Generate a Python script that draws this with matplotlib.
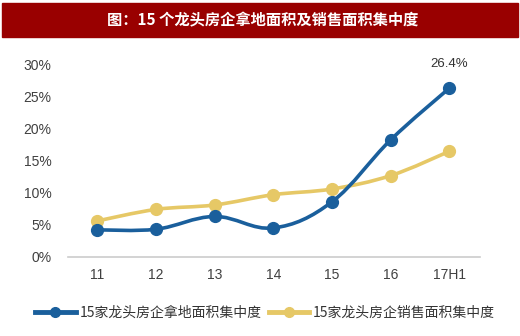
import numpy as np
import matplotlib.pyplot as plt
from matplotlib.patches import Rectangle, PathPatch
from matplotlib.path import Path

plt.rcParams['font.family'] = ['Noto Sans CJK SC', 'DejaVu Sans']

years = ['11', '12', '13', '14', '15', '16', '17H1']
land_share = [4.2, 4.3, 6.3, 4.5, 8.6, 18.3, 26.4]    # 拿地面积集中度 (%)
sales_share = [5.6, 7.4, 8.1, 9.7, 10.6, 12.7, 16.5]  # 销售面积集中度 (%)
series_names = ['15家龙头房企拿地面积集中度', '15家龙头房企销售面积集中度']
title = '图：15 个龙头房企拿地面积及销售面积集中度'

BLUE = '#1a5f9c'
GOLD = '#e6c866'


def smooth_path(xs, ys, k=0.18):
    # cardinal-spline style bezier segments through the points
    xs = np.asarray(xs, float)
    ys = np.asarray(ys, float)
    verts = [(xs[0], ys[0])]
    codes = [Path.MOVETO]
    n = len(xs)
    for i in range(n - 1):
        p0 = i - 1 if i > 0 else i
        p3 = i + 2 if i + 2 < n else i + 1
        c1 = (xs[i] + k * (xs[i + 1] - xs[p0]), ys[i] + k * (ys[i + 1] - ys[p0]))
        c2 = (xs[i + 1] - k * (xs[p3] - xs[i]), ys[i + 1] - k * (ys[p3] - ys[i]))
        verts += [c1, c2, (xs[i + 1], ys[i + 1])]
        codes += [Path.CURVE4] * 3
    return Path(verts, codes)


fig = plt.figure(figsize=(5.2, 3.36), dpi=100)
fig.patches.append(Rectangle((2 / 520, 1 - 37 / 336), 516 / 520, 34 / 336,
                             transform=fig.transFigure, color='#990000', zorder=0))
fig.text(0.505, 1 - 20 / 336, title, color='white', fontsize=11, fontweight='bold',
         ha='center', va='center')

ax = fig.add_axes([68 / 520, 1 - 256.7 / 336, 412 / 520, 191.7 / 336])
x = np.arange(len(years))

for vals, col in [(sales_share, GOLD), (land_share, BLUE)]:
    ax.add_patch(PathPatch(smooth_path(x, vals), fill=False, edgecolor=col,
                           lw=2.6, capstyle='round', zorder=3))
    ax.plot(x, vals, 'o', color=col, ms=8.5, zorder=4)

ax.annotate(f'{land_share[-1]:.1f}%', (x[-1], land_share[-1]), xytext=(0, 13),
            textcoords='offset points', ha='center', va='bottom',
            fontsize=9.5, color='#333333', family='Liberation Sans')

ax.set_xlim(-0.5, 6.52)
ax.set_ylim(0, 30)
ax.set_xticks(x)
ax.set_xticklabels(years)
ax.set_yticks(range(0, 31, 5))
ax.set_yticklabels([f'{v}%' for v in range(0, 31, 5)])
for lab in ax.get_xticklabels() + ax.get_yticklabels():
    lab.set_family('Liberation Sans')
    lab.set_fontsize(10)
    lab.set_color('#404040')
ax.tick_params(length=0, pad=8)
ax.tick_params(axis='y', pad=12)
for s in ['top', 'right', 'left']:
    ax.spines[s].set_visible(False)
ax.spines['bottom'].set_color('#cccccc')
ax.spines['bottom'].set_linewidth(1.2)

handles = [plt.Line2D([], [], color=c, lw=3.5, marker='o', ms=7) for c in (BLUE, GOLD)]
fig.legend(handles, series_names, loc='center', bbox_to_anchor=(0.51, 1 - 313 / 336),
           ncol=2, frameon=False, fontsize=10, handlelength=2.9, handletextpad=0.3,
           columnspacing=0.5, labelcolor='#333333')

fig.savefig('out.png', dpi=100)
